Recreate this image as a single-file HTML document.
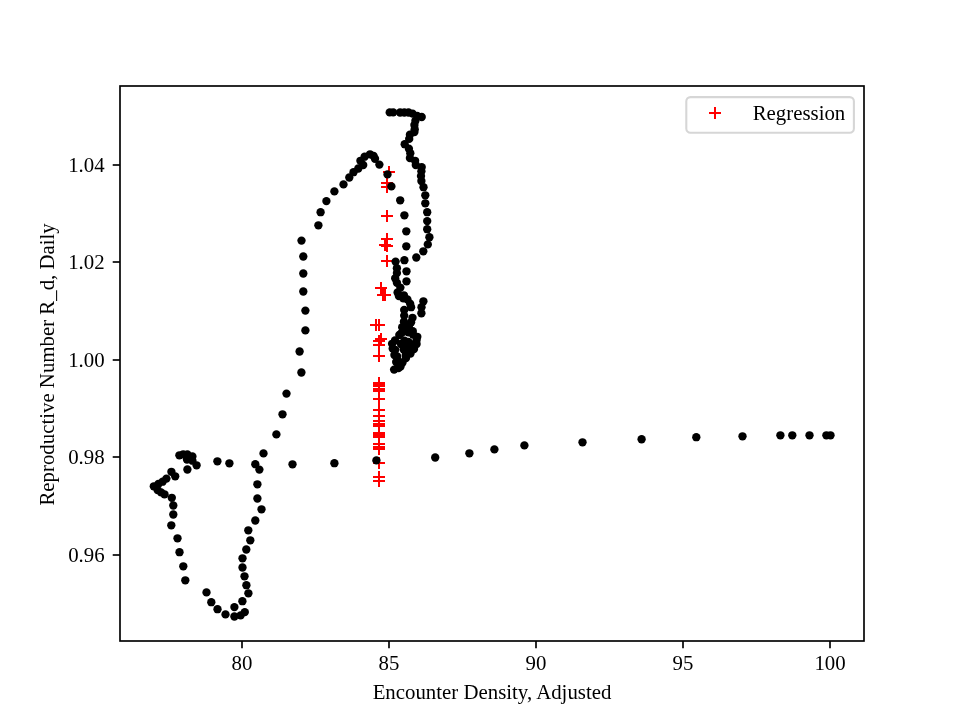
<!DOCTYPE html>
<html><head><meta charset="utf-8"><style>
html,body{margin:0;padding:0;background:#fff;width:960px;height:720px;overflow:hidden}
svg{display:block;will-change:transform}
text{font-family:"Liberation Serif",serif;font-size:20.83px;fill:#000}
</style></head><body>
<svg width="960" height="720" viewBox="0 0 960 720">
<rect x="0" y="0" width="960" height="720" fill="#fff"/>
<g fill="#000">
<path d="M383 172H395M389 166V178M381 183H393M387 177V189M381 187H393M387 181V193M381 216H393M387 210V222M381 239H393M387 233V245M379 245H391M385 239V251M381 246H393M387 240V252M381 261H393M387 255V267M375 288H387M381 282V294M377 295H389M383 289V301M379 295H391M385 289V301M370 325H382M376 319V331M373 325H385M379 319V331M375 339H387M381 333V345M373 341H385M379 335V347M373 345H385M379 339V351M373 356H385M379 350V362M373 383H385M379 377V389M373 385H385M379 379V391M373 386H385M379 380V392M373 389H385M379 383V395M373 391H385M379 385V397M373 399H385M379 393V405M373 410H385M379 404V416M373 416H385M379 410V422M373 421H385M379 415V427M373 424H385M379 418V430M373 426H385M379 420V432M373 433H385M379 427V439M373 435H385M379 429V441M373 437H385M379 431V443M373 444H385M379 438V450M373 447H385M379 441V453M373 449H385M379 443V455M373 463H385M379 457V469M373 477H385M379 471V483M373 481H385M379 475V487" stroke="#ff0000" stroke-width="2" fill="none" shape-rendering="crispEdges"/>
<circle cx="206.50" cy="592.40" r="4.17"/>
<circle cx="211.30" cy="602.20" r="4.17"/>
<circle cx="217.50" cy="609.20" r="4.17"/>
<circle cx="225.50" cy="614.40" r="4.17"/>
<circle cx="234.40" cy="607.10" r="4.17"/>
<circle cx="234.40" cy="616.50" r="4.17"/>
<circle cx="240.60" cy="615.40" r="4.17"/>
<circle cx="244.80" cy="612.10" r="4.17"/>
<circle cx="242.40" cy="601.20" r="4.17"/>
<circle cx="248.40" cy="593.30" r="4.17"/>
<circle cx="246.40" cy="585.20" r="4.17"/>
<circle cx="244.50" cy="576.30" r="4.17"/>
<circle cx="242.50" cy="567.50" r="4.17"/>
<circle cx="242.50" cy="558.30" r="4.17"/>
<circle cx="246.30" cy="549.50" r="4.17"/>
<circle cx="250.30" cy="540.30" r="4.17"/>
<circle cx="248.30" cy="530.30" r="4.17"/>
<circle cx="255.30" cy="520.50" r="4.17"/>
<circle cx="261.50" cy="509.30" r="4.17"/>
<circle cx="257.40" cy="498.50" r="4.17"/>
<circle cx="257.40" cy="484.30" r="4.17"/>
<circle cx="259.40" cy="469.60" r="4.17"/>
<circle cx="255.30" cy="464.20" r="4.17"/>
<circle cx="263.50" cy="453.40" r="4.17"/>
<circle cx="276.40" cy="434.40" r="4.17"/>
<circle cx="282.50" cy="414.30" r="4.17"/>
<circle cx="286.50" cy="393.60" r="4.17"/>
<circle cx="301.40" cy="372.50" r="4.17"/>
<circle cx="299.60" cy="351.50" r="4.17"/>
<circle cx="305.40" cy="330.40" r="4.17"/>
<circle cx="305.40" cy="310.60" r="4.17"/>
<circle cx="303.30" cy="291.50" r="4.17"/>
<circle cx="303.30" cy="273.50" r="4.17"/>
<circle cx="303.30" cy="256.50" r="4.17"/>
<circle cx="301.50" cy="240.60" r="4.17"/>
<circle cx="318.40" cy="225.30" r="4.17"/>
<circle cx="320.60" cy="212.20" r="4.17"/>
<circle cx="326.40" cy="201.10" r="4.17"/>
<circle cx="334.40" cy="191.40" r="4.17"/>
<circle cx="343.50" cy="184.40" r="4.17"/>
<circle cx="349.30" cy="177.50" r="4.17"/>
<circle cx="353.50" cy="172.20" r="4.17"/>
<circle cx="358.30" cy="168.50" r="4.17"/>
<circle cx="363.20" cy="165.00" r="4.17"/>
<circle cx="360.40" cy="160.80" r="4.17"/>
<circle cx="364.60" cy="156.70" r="4.17"/>
<circle cx="370.00" cy="154.30" r="4.17"/>
<circle cx="373.60" cy="156.00" r="4.17"/>
<circle cx="375.00" cy="158.75" r="4.17"/>
<circle cx="379.40" cy="164.60" r="4.17"/>
<circle cx="387.50" cy="174.40" r="4.17"/>
<circle cx="391.40" cy="186.40" r="4.17"/>
<circle cx="400.20" cy="200.30" r="4.17"/>
<circle cx="404.40" cy="215.30" r="4.17"/>
<circle cx="406.30" cy="231.30" r="4.17"/>
<circle cx="406.30" cy="246.30" r="4.17"/>
<circle cx="404.40" cy="260.20" r="4.17"/>
<circle cx="406.50" cy="271.30" r="4.17"/>
<circle cx="406.50" cy="281.30" r="4.17"/>
<circle cx="173.30" cy="505.50" r="4.17"/>
<circle cx="173.30" cy="514.50" r="4.17"/>
<circle cx="171.30" cy="525.30" r="4.17"/>
<circle cx="177.50" cy="538.30" r="4.17"/>
<circle cx="179.50" cy="552.20" r="4.17"/>
<circle cx="183.30" cy="566.30" r="4.17"/>
<circle cx="185.30" cy="580.30" r="4.17"/>
<circle cx="179.40" cy="455.30" r="4.17"/>
<circle cx="183.20" cy="454.30" r="4.17"/>
<circle cx="187.40" cy="454.40" r="4.17"/>
<circle cx="192.40" cy="456.50" r="4.17"/>
<circle cx="187.00" cy="459.50" r="4.17"/>
<circle cx="192.40" cy="460.70" r="4.17"/>
<circle cx="196.60" cy="465.30" r="4.17"/>
<circle cx="187.40" cy="469.50" r="4.17"/>
<circle cx="171.40" cy="471.80" r="4.17"/>
<circle cx="175.20" cy="476.30" r="4.17"/>
<circle cx="166.40" cy="478.60" r="4.17"/>
<circle cx="162.60" cy="481.70" r="4.17"/>
<circle cx="158.40" cy="484.00" r="4.17"/>
<circle cx="153.80" cy="486.30" r="4.17"/>
<circle cx="157.60" cy="490.10" r="4.17"/>
<circle cx="161.10" cy="492.40" r="4.17"/>
<circle cx="164.50" cy="494.30" r="4.17"/>
<circle cx="171.80" cy="497.80" r="4.17"/>
<circle cx="217.40" cy="461.30" r="4.17"/>
<circle cx="229.40" cy="463.30" r="4.17"/>
<circle cx="292.50" cy="464.30" r="4.17"/>
<circle cx="334.40" cy="463.20" r="4.17"/>
<circle cx="376.40" cy="460.40" r="4.17"/>
<circle cx="435.20" cy="457.50" r="4.17"/>
<circle cx="469.40" cy="453.30" r="4.17"/>
<circle cx="494.40" cy="449.40" r="4.17"/>
<circle cx="524.40" cy="445.40" r="4.17"/>
<circle cx="582.50" cy="442.30" r="4.17"/>
<circle cx="641.60" cy="439.25" r="4.17"/>
<circle cx="696.30" cy="437.20" r="4.17"/>
<circle cx="742.50" cy="436.30" r="4.17"/>
<circle cx="780.40" cy="435.30" r="4.17"/>
<circle cx="792.30" cy="435.30" r="4.17"/>
<circle cx="809.50" cy="435.30" r="4.17"/>
<circle cx="826.40" cy="435.30" r="4.17"/>
<circle cx="830.50" cy="435.30" r="4.17"/>
<circle cx="389.70" cy="112.40" r="4.17"/>
<circle cx="393.20" cy="112.40" r="4.17"/>
<circle cx="400.10" cy="112.50" r="4.17"/>
<circle cx="404.30" cy="112.50" r="4.17"/>
<circle cx="408.50" cy="112.50" r="4.17"/>
<circle cx="412.60" cy="113.60" r="4.17"/>
<circle cx="417.20" cy="115.90" r="4.17"/>
<circle cx="421.70" cy="117.00" r="4.17"/>
<circle cx="415.40" cy="120.80" r="4.17"/>
<circle cx="414.40" cy="125.00" r="4.17"/>
<circle cx="414.70" cy="129.20" r="4.17"/>
<circle cx="414.40" cy="132.00" r="4.17"/>
<circle cx="409.90" cy="134.70" r="4.17"/>
<circle cx="409.20" cy="138.90" r="4.17"/>
<circle cx="404.70" cy="144.20" r="4.17"/>
<circle cx="408.90" cy="148.70" r="4.17"/>
<circle cx="410.30" cy="153.20" r="4.17"/>
<circle cx="409.90" cy="158.10" r="4.17"/>
<circle cx="415.10" cy="160.80" r="4.17"/>
<circle cx="415.80" cy="165.00" r="4.17"/>
<circle cx="421.70" cy="167.10" r="4.17"/>
<circle cx="421.40" cy="171.25" r="4.17"/>
<circle cx="421.00" cy="176.10" r="4.17"/>
<circle cx="421.40" cy="181.00" r="4.17"/>
<circle cx="423.50" cy="187.20" r="4.17"/>
<circle cx="425.30" cy="195.30" r="4.17"/>
<circle cx="425.30" cy="203.30" r="4.17"/>
<circle cx="427.20" cy="212.20" r="4.17"/>
<circle cx="427.20" cy="221.10" r="4.17"/>
<circle cx="427.20" cy="229.20" r="4.17"/>
<circle cx="429.40" cy="237.20" r="4.17"/>
<circle cx="427.80" cy="244.40" r="4.17"/>
<circle cx="423.30" cy="251.30" r="4.17"/>
<circle cx="416.30" cy="257.50" r="4.17"/>
<circle cx="395.60" cy="261.60" r="4.17"/>
<circle cx="396.90" cy="268.20" r="4.17"/>
<circle cx="396.90" cy="273.10" r="4.17"/>
<circle cx="395.20" cy="278.30" r="4.17"/>
<circle cx="396.90" cy="282.80" r="4.17"/>
<circle cx="400.40" cy="287.60" r="4.17"/>
<circle cx="397.60" cy="292.50" r="4.17"/>
<circle cx="403.90" cy="295.30" r="4.17"/>
<circle cx="407.40" cy="299.40" r="4.17"/>
<circle cx="410.10" cy="303.60" r="4.17"/>
<circle cx="398.90" cy="296.10" r="4.17"/>
<circle cx="403.30" cy="298.30" r="4.17"/>
<circle cx="411.10" cy="307.20" r="4.17"/>
<circle cx="404.20" cy="310.00" r="4.17"/>
<circle cx="404.20" cy="315.60" r="4.17"/>
<circle cx="403.90" cy="321.70" r="4.17"/>
<circle cx="402.20" cy="327.20" r="4.17"/>
<circle cx="401.50" cy="333.00" r="4.17"/>
<circle cx="412.50" cy="317.80" r="4.17"/>
<circle cx="411.10" cy="322.20" r="4.17"/>
<circle cx="408.90" cy="326.10" r="4.17"/>
<circle cx="412.80" cy="331.10" r="4.17"/>
<circle cx="423.40" cy="301.30" r="4.17"/>
<circle cx="421.50" cy="307.20" r="4.17"/>
<circle cx="421.40" cy="313.30" r="4.17"/>
<circle cx="404.00" cy="331.30" r="4.17"/>
<circle cx="408.50" cy="332.30" r="4.17"/>
<circle cx="413.00" cy="334.50" r="4.17"/>
<circle cx="417.30" cy="336.80" r="4.17"/>
<circle cx="399.30" cy="335.00" r="4.17"/>
<circle cx="392.10" cy="343.80" r="4.17"/>
<circle cx="392.70" cy="348.60" r="4.17"/>
<circle cx="394.40" cy="355.00" r="4.17"/>
<circle cx="396.20" cy="362.00" r="4.17"/>
<circle cx="394.10" cy="369.60" r="4.17"/>
<circle cx="395.00" cy="340.50" r="4.17"/>
<circle cx="395.20" cy="349.80" r="4.17"/>
<circle cx="397.20" cy="356.50" r="4.17"/>
<circle cx="398.00" cy="361.00" r="4.17"/>
<circle cx="398.50" cy="366.50" r="4.17"/>
<circle cx="404.50" cy="340.60" r="4.17"/>
<circle cx="408.30" cy="341.80" r="4.17"/>
<circle cx="412.00" cy="344.50" r="4.17"/>
<circle cx="401.00" cy="344.00" r="4.17"/>
<circle cx="403.70" cy="349.50" r="4.17"/>
<circle cx="405.80" cy="355.00" r="4.17"/>
<circle cx="408.00" cy="346.50" r="4.17"/>
<circle cx="410.00" cy="350.50" r="4.17"/>
<circle cx="414.00" cy="349.00" r="4.17"/>
<circle cx="416.60" cy="344.00" r="4.17"/>
<circle cx="416.60" cy="340.00" r="4.17"/>
<circle cx="410.50" cy="353.50" r="4.17"/>
<circle cx="406.00" cy="358.00" r="4.17"/>
<circle cx="402.50" cy="362.50" r="4.17"/>
<circle cx="400.50" cy="366.50" r="4.17"/>
<circle cx="398.50" cy="368.00" r="4.17"/>
</g>
<rect x="120.0" y="86.0" width="744.0" height="555.0" fill="none" stroke="#000" stroke-width="1.67" stroke-linejoin="miter"/>
<g stroke="#000" stroke-width="1.67">
<line x1="242.0" y1="641.0" x2="242.0" y2="648.29"/>
<line x1="389.0" y1="641.0" x2="389.0" y2="648.29"/>
<line x1="536.0" y1="641.0" x2="536.0" y2="648.29"/>
<line x1="683.0" y1="641.0" x2="683.0" y2="648.29"/>
<line x1="830.0" y1="641.0" x2="830.0" y2="648.29"/>
<line x1="112.71" y1="165.0" x2="120.0" y2="165.0"/>
<line x1="112.71" y1="262.0" x2="120.0" y2="262.0"/>
<line x1="112.71" y1="360.0" x2="120.0" y2="360.0"/>
<line x1="112.71" y1="457.0" x2="120.0" y2="457.0"/>
<line x1="112.71" y1="555.0" x2="120.0" y2="555.0"/>
</g>
<text x="242.0" y="669.7" text-anchor="middle">80</text>
<text x="389.0" y="669.7" text-anchor="middle">85</text>
<text x="536.0" y="669.7" text-anchor="middle">90</text>
<text x="683.0" y="669.7" text-anchor="middle">95</text>
<text x="830.0" y="669.7" text-anchor="middle">100</text>
<text x="104.6" y="171.90" text-anchor="end">1.04</text>
<text x="104.6" y="268.90" text-anchor="end">1.02</text>
<text x="104.6" y="366.90" text-anchor="end">1.00</text>
<text x="104.6" y="463.90" text-anchor="end">0.98</text>
<text x="104.6" y="561.90" text-anchor="end">0.96</text>
<text x="492" y="699" text-anchor="middle">Encounter Density, Adjusted</text>
<text transform="translate(53.9 364.4) rotate(-90)" x="0" y="0" text-anchor="middle">Reproductive Number R_d, Daily</text>
<rect x="686.3" y="97.1" width="167.6" height="35.6" rx="4.2" ry="4.2" fill="#fff" fill-opacity="0.8" stroke="#d6d6d6" stroke-width="2.08"/>
<path d="M709 113H721M715 107V119" stroke="#ff0000" stroke-width="2" shape-rendering="crispEdges"/>
<text x="752.7" y="120.2">Regression</text>
</svg>
</body></html>
